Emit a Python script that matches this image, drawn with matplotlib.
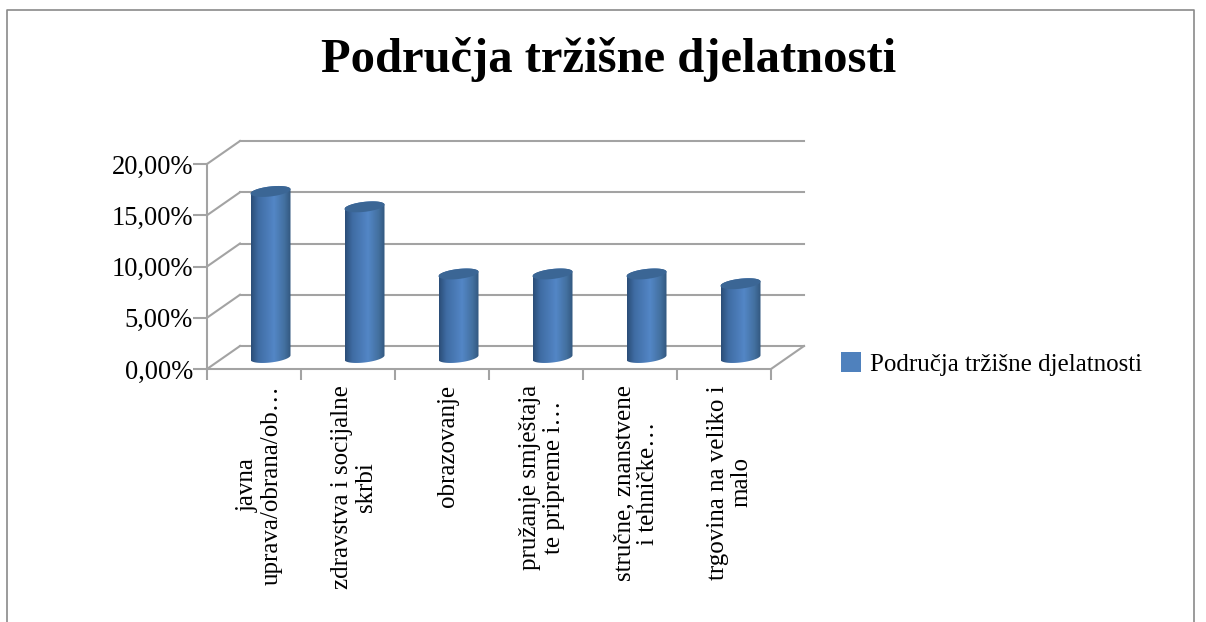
import numpy as np
import matplotlib
matplotlib.use("Agg")
import matplotlib.pyplot as plt
from matplotlib.transforms import Affine2D
from matplotlib.patches import Polygon, Rectangle
from matplotlib.colors import LinearSegmentedColormap
from matplotlib.lines import Line2D

title = "Područja tržišne djelatnosti"
categories = [
    "javna\nuprava/obrana/ob…",
    "zdravstva i socijalne\nskrbi",
    "obrazovanje",
    "pružanje smještaja\nte pripreme i…",
    "stručne, znanstvene\ni tehničke…",
    "trgovina na veliko i\nmalo",
]
values = [16.2, 14.7, 8.15, 8.15, 8.15, 7.2]
yticks = [0, 5, 10, 15, 20]
ytick_labels = ["0,00%", "5,00%", "10,00%", "15,00%", "20,00%"]

W, H = 1206, 622
plt.rcParams["font.family"] = ["Liberation Serif", "DejaVu Serif"]
fig = plt.figure(figsize=(W / 100, H / 100), dpi=100)
ax = fig.add_axes([207 / W, 1 - 369 / H, (771 - 207) / W, (369 - 164) / H])
ax.set_xlim(0, len(categories))
ax.set_ylim(0, 20)
ax.patch.set_visible(False)
for s in ax.spines.values():
    s.set_visible(False)

GRID = "#a3a3a3"
DX, DY = 33, 23
back = ax.transData + Affine2D().translate(DX, DY)
mid = ax.transData + Affine2D().translate(DX / 2, DY / 2)

# walls
n = len(categories)
for v in yticks:
    ax.plot([0, n], [v, v], color=GRID, lw=1.5, transform=back, clip_on=False, zorder=1)
    ax.annotate("", xy=(0, v), xytext=(DX, DY), xycoords="data",
                textcoords=matplotlib.transforms.offset_copy(ax.transData, fig=fig, x=0, y=0, units="dots"))
    p0 = ax.transData.transform((0, v))
    ax.add_line(Line2D([p0[0], p0[0] + DX], [p0[1], p0[1] + DY], transform=None,
                       color=GRID, lw=1.5, clip_on=False, zorder=1))
p0 = ax.transData.transform((n, 0))
ax.add_line(Line2D([p0[0], p0[0] + DX], [p0[1], p0[1] + DY], transform=None,
                   color=GRID, lw=1.5, clip_on=False, zorder=1))
ax.plot([0, n], [0, 0], color=GRID, lw=1.5, clip_on=False, zorder=1)
ax.plot([0, 0], [0, 20], color=GRID, lw=1.5, clip_on=False, zorder=1)

# cylinders
cmap = LinearSegmentedColormap.from_list(
    "cyl", [(0, "#2b4e78"), (0.18, "#3f6ca3"), (0.58, "#5386c6"), (0.85, "#43709f"), (1, "#32587f")])
grad = np.linspace(0, 1, 64).reshape(1, -1)
bar_w = 40 / 94
a = bar_w / 2
b = 5 / 10.25
tilt = 2.2 / 10.25
t = np.linspace(0, 2 * np.pi, 90)
for i, v in enumerate(values):
    cx = i + 0.5
    ex = cx + a * np.cos(t)
    low = (t >= np.pi)
    top_y = v + b * np.sin(t) + tilt * np.cos(t)
    bot_y = b * np.sin(t) + tilt * np.cos(t)
    outline = np.r_[np.c_[ex[~low], top_y[~low]], np.c_[ex[low], bot_y[low]]]
    shape = Polygon(outline, closed=True, transform=mid, facecolor="none", edgecolor="none")
    ax.add_patch(shape)
    im = ax.imshow(grad, extent=(cx - a, cx + a, -2, v + 2), aspect="auto", cmap=cmap,
                   transform=mid, zorder=3, clip_on=True)
    im.set_clip_path(shape)
    ax.add_patch(Polygon(np.c_[ex, top_y], closed=True, transform=mid, facecolor="#3b6695",
                         edgecolor="none", zorder=4, clip_on=False))
ax.set_xlim(0, n)
ax.set_ylim(0, 20)

# ticks
ax.set_yticks(yticks)
ax.set_yticklabels(ytick_labels, fontsize=26.5 * 0.72, color="#000000")
ax.set_xticks(range(n + 1))
ax.set_xticklabels([])
ax.tick_params(axis="y", length=10, width=1.5, color=GRID, pad=0, direction="out")
ax.tick_params(axis="x", length=8, width=1.5, color=GRID)
for i, c in enumerate(categories):
    ax.annotate(c, xy=(i + 0.5, 0), xytext=(6, -16), textcoords="offset pixels",
                rotation=90, ha="center", va="top", multialignment="center",
                fontsize=25 * 0.72, linespacing=1.1, annotation_clip=False)

# title
fig.text(608.5 / W, 1 - 60 / H, title, ha="center", va="center", fontsize=35, fontweight="bold")

# legend
ax.legend([Rectangle((0, 0), 1, 1, facecolor="#4f81bd", edgecolor="none")], [title],
          loc="center left", bbox_to_anchor=(841 / W, 1 - 364 / H), bbox_transform=fig.transFigure,
          frameon=False, fontsize=25 * 0.72, handlelength=0.8, handleheight=0.8, handletextpad=0.35,
          borderpad=0, borderaxespad=0)

# outer frame
fig.add_artist(Line2D([7 / W, 7 / W, 1194 / W, 1194 / W], [0, 1 - 10 / H, 1 - 10 / H, 0],
                      color="#8a8a8a", lw=1.2))
fig.savefig("out.png", dpi=100)
